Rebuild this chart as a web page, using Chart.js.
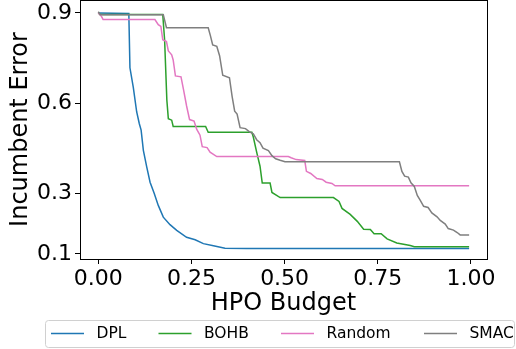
<!DOCTYPE html>
<html>
<head>
<meta charset="utf-8">
<script src="https://cdn.jsdelivr.net/npm/chart.js@4.4.1/dist/chart.umd.min.js"></script>
<style>
  html, body { margin: 0; padding: 0; background: #fff; }
  canvas { display: block; }
</style>
</head>
<body>
<canvas id="c" width="516" height="349"></canvas>
<script>
// Incumbent error vs. fraction of HPO budget spent, one curve per optimiser.
const seriesNames = ['DPL', 'BOHB', 'Random', 'SMAC'];
const seriesColors = ['#1f77b4', '#2ca02c', '#e377c2', '#7f7f7f'];

const dplBudget = [0, 0.082, 0.085, 0.094, 0.103, 0.110, 0.115, 0.121, 0.130, 0.139, 0.150, 0.161, 0.1745, 0.1925, 0.2105, 0.237, 0.260, 0.282, 0.309, 0.340, 0.3985, 0.995];
const dplError  = [0.900, 0.898, 0.718, 0.653, 0.572, 0.533, 0.511, 0.444, 0.389, 0.338, 0.301, 0.261, 0.222, 0.197, 0.178, 0.155, 0.147, 0.134, 0.127, 0.119, 0.118, 0.118];

const bohbBudget = [0, 0.005, 0.173, 0.178, 0.184, 0.188, 0.197, 0.201, 0.288, 0.295, 0.412, 0.416, 0.425, 0.434, 0.440, 0.461, 0.466, 0.488, 0.631, 0.646, 0.654, 0.676, 0.695, 0.712, 0.730, 0.740, 0.759, 0.775, 0.801, 0.837, 0.848, 0.995];
const bohbError  = [0.900, 0.895, 0.895, 0.811, 0.611, 0.549, 0.544, 0.523, 0.523, 0.504, 0.504, 0.488, 0.438, 0.391, 0.335, 0.335, 0.304, 0.287, 0.287, 0.274, 0.251, 0.231, 0.208, 0.182, 0.181, 0.167, 0.167, 0.150, 0.136, 0.128, 0.124, 0.124];

const randomBudget = [0, 0.009, 0.013, 0.152, 0.161, 0.168, 0.173, 0.183, 0.188, 0.197, 0.201, 0.207, 0.222, 0.229, 0.237, 0.245, 0.257, 0.264, 0.273, 0.279, 0.292, 0.300, 0.318, 0.510, 0.5175, 0.531, 0.554, 0.5585, 0.570, 0.5865, 0.601, 0.6115, 0.627, 0.6356, 0.995];
const randomError  = [0.900, 0.888, 0.878, 0.878, 0.861, 0.855, 0.811, 0.805, 0.774, 0.761, 0.744, 0.691, 0.688, 0.644, 0.591, 0.546, 0.541, 0.514, 0.494, 0.456, 0.453, 0.438, 0.423, 0.423, 0.419, 0.413, 0.410, 0.374, 0.367, 0.350, 0.347, 0.338, 0.334, 0.326, 0.326];

const smacBudget = [0, 0.005, 0.1745, 0.183, 0.295, 0.301, 0.307, 0.318, 0.3255, 0.334, 0.352, 0.359, 0.366, 0.3725, 0.3805, 0.395, 0.405, 0.416, 0.425, 0.434, 0.442, 0.4565, 0.466, 0.476, 0.488, 0.501, 0.808, 0.8147, 0.822, 0.832, 0.839, 0.848, 0.856, 0.864, 0.873, 0.885, 0.895, 0.909, 0.9176, 0.931, 0.939, 0.953, 0.963, 0.971, 0.995];
const smacError  = [0.904, 0.894, 0.894, 0.851, 0.851, 0.824, 0.794, 0.789, 0.758, 0.693, 0.685, 0.624, 0.574, 0.564, 0.519, 0.516, 0.506, 0.499, 0.479, 0.469, 0.451, 0.443, 0.426, 0.416, 0.411, 0.406, 0.406, 0.374, 0.358, 0.355, 0.336, 0.324, 0.294, 0.278, 0.258, 0.254, 0.236, 0.223, 0.211, 0.199, 0.184, 0.179, 0.171, 0.163, 0.163];

const xTickValues = [0, 0.25, 0.5, 0.75, 1.0];
const yTickValues = [0.1, 0.3, 0.6, 0.9];

const budgets = [dplBudget, bohbBudget, randomBudget, smacBudget];
const errors = [dplError, bohbError, randomError, smacError];

const FONT = 'DejaVu Sans';

const datasets = seriesNames.map((name, i) => ({
  label: name,
  data: budgets[i].map((b, j) => ({ x: b, y: errors[i][j] })),
  borderColor: seriesColors[i],
  backgroundColor: seriesColors[i],
  borderWidth: 1.5,
  pointRadius: 0,
  fill: false,
  tension: 0,
  order: seriesNames.length - i   // later series are painted on top
}));

// Box around the plot area plus a framed legend row under the axis.
const framePlugin = {
  id: 'frameAndLegend',
  afterDatasetsDraw(chart) {
    const { ctx, chartArea: a } = chart;
    ctx.save();
    ctx.strokeStyle = '#000';
    ctx.lineWidth = 1;
    ctx.strokeRect(Math.round(a.left) + 0.5, Math.round(a.top) + 0.5, Math.round(a.right - a.left), Math.round(a.bottom - a.top));
    ctx.restore();
  },
  afterDraw(chart) {
    const ctx = chart.ctx;
    ctx.save();
    const bx = 45.5, by = 320.5, bw = 469, bh = 27, r = 3;
    ctx.beginPath();
    ctx.moveTo(bx + r, by);
    ctx.lineTo(bx + bw - r, by);
    ctx.quadraticCurveTo(bx + bw, by, bx + bw, by + r);
    ctx.lineTo(bx + bw, by + bh - r);
    ctx.quadraticCurveTo(bx + bw, by + bh, bx + bw - r, by + bh);
    ctx.lineTo(bx + r, by + bh);
    ctx.quadraticCurveTo(bx, by + bh, bx, by + bh - r);
    ctx.lineTo(bx, by + r);
    ctx.quadraticCurveTo(bx, by, bx + r, by);
    ctx.closePath();
    ctx.fillStyle = 'rgba(255,255,255,0.8)';
    ctx.fill();
    ctx.strokeStyle = '#d0d0d0';
    ctx.lineWidth = 1;
    ctx.stroke();

    const lineStarts = [51, 158.5, 281, 424];
    const rowY = 333.5;
    ctx.font = '15.5px "' + FONT + '"';
    ctx.textBaseline = 'middle';
    ctx.textAlign = 'left';
    chart.data.datasets.forEach((ds, i) => {
      const x0 = lineStarts[i];
      ctx.strokeStyle = ds.borderColor;
      ctx.lineWidth = 1.5;
      ctx.beginPath();
      ctx.moveTo(x0, rowY);
      ctx.lineTo(x0 + 33, rowY);
      ctx.stroke();
      ctx.fillStyle = '#000';
      ctx.fillText(ds.label, x0 + 45.5, rowY);
    });
    ctx.restore();
  }
};

new Chart(document.getElementById('c'), {
  type: 'line',
  data: { datasets },
  plugins: [framePlugin],
  options: {
    responsive: false,
    animation: false,
    layout: { padding: { top: 0, right: 29, bottom: 30, left: 0 } },
    plugins: { legend: { display: false }, tooltip: { enabled: false } },
    scales: {
      x: {
        type: 'linear',
        min: -0.049,
        max: 1.043,
        afterFit: (s) => { s.height = 60; s.paddingLeft = 0; s.paddingRight = 0; },
        afterBuildTicks: (s) => { s.ticks = xTickValues.map(v => ({ value: v })); },
        grid: { drawOnChartArea: false, tickLength: 5, tickColor: '#000', tickWidth: 1 },
        border: { display: true, color: '#000', width: 1 },
        ticks: {
          color: '#000',
          padding: 2,
          maxRotation: 0,
          font: { family: FONT, size: 22, weight: 'normal' },
          callback: (v) => Number(v).toFixed(2)
        },
        title: {
          display: true,
          text: 'HPO Budget',
          color: '#000',
          font: { family: FONT, size: 24, weight: 'normal' },
          padding: { top: 0, bottom: 1 }
        }
      },
      y: {
        type: 'linear',
        min: 0.083,
        max: 0.943,
        afterFit: (s) => { s.width = 80; s.paddingTop = 0; s.paddingBottom = 0; },
        afterBuildTicks: (s) => { s.ticks = yTickValues.map(v => ({ value: v })); },
        grid: { drawOnChartArea: false, tickLength: 5, tickColor: '#000', tickWidth: 1 },
        border: { display: true, color: '#000', width: 1 },
        ticks: {
          color: '#000',
          padding: 3,
          font: { family: FONT, size: 22, weight: 'normal' },
          callback: (v) => Number(v).toFixed(1)
        },
        title: {
          display: true,
          text: 'Incumbent Error',
          color: '#000',
          font: { family: FONT, size: 24, weight: 'normal' },
          padding: { top: 6, bottom: 0 }
        }
      }
    }
  }
});
</script>
</body>
</html>
